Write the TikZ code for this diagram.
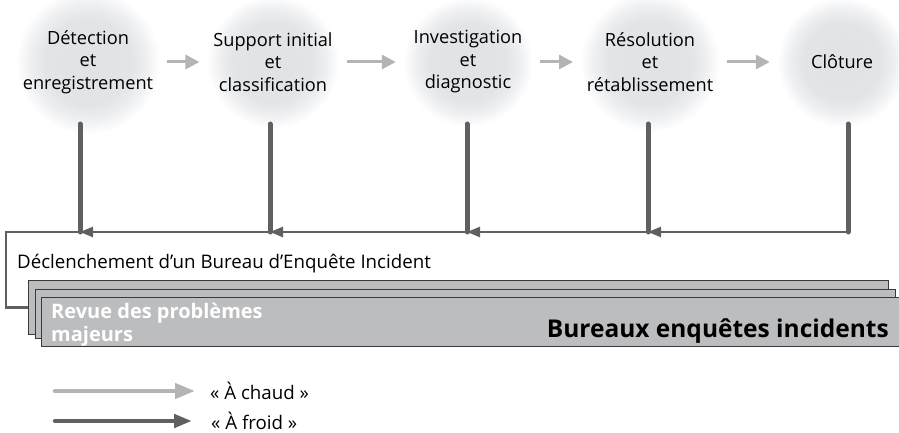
\documentclass[tikz,border=0pt]{standalone}
\usepackage{fontspec}
\setmainfont{Open Sans}
\usetikzlibrary{arrows.meta}

\definecolor{hotgray}{RGB}{180,180,181}
\definecolor{coldgray}{RGB}{96,96,97}
\definecolor{glowgray}{RGB}{224,226,230}
\definecolor{boxgray}{RGB}{188,189,191}
\definecolor{edgegray}{RGB}{58,58,60}

% soft disc behind each phase (the node border sits at 25bp)
\pgfdeclareradialshading{glow}{\pgfpointorigin}{color(0bp)=(glowgray);
  color(15bp)=(glowgray!92!white); color(20bp)=(glowgray!55!white);
  color(25bp)=(white); color(50bp)=(white)}

\begin{document}
\begin{tikzpicture}[
  x=1pt, y=-1pt,
  phase/.style={circle, minimum size=130pt, inner sep=0pt, shading=glow,
    align=center, font=\fontsize{18.2}{22.5}\selectfont},
  hot/.style={hotgray, line width=3pt, -{Triangle[length=14pt, width=14pt]},
    shorten <=7pt, shorten >=7pt},
  cold/.style={coldgray, line width=5pt, line cap=round, shorten <=62pt},
  bus/.style={coldgray, line width=2.5pt},
  busarrow/.style={bus, -{Triangle[length=13pt, width=10pt]}},
  board/.style={draw=edgegray, line width=1.2pt, fill=boxgray, anchor=north west},
  label/.style={inner sep=0pt, font=\fontsize{18.7}{22}\selectfont},
]
\useasboundingbox (0,0) rectangle (899,433);

% Phases of the incident
\node[phase] (detect)  at (88,62)  {Détection\\et\\enregistrement};
\node[phase] (support) at (273,62) {Support initial\\et\\classification};
\node[phase] (invest)  at (468,62) {Investigation\\et\\diagnostic};
\node[phase] (resol)   at (650,62) {Résolution\\et\\rétablissement};
\node[phase] (cloture) at (842,62) {Clôture};

% Hot flow between phases
\draw[hot] (detect) -- (support);
\draw[hot] (support) -- (invest);
\draw[hot] (invest) -- (resol);
\draw[hot] (resol) -- (cloture);

% Stacked boards
\node[board, minimum width=860pt, minimum height=54pt] (back)  at (28,280) {};
\node[board, minimum width=860pt, minimum height=49pt] (mid)   at (35,289) {};
\node[board, minimum width=870pt, minimum height=49pt] (front) at (41,297) {};
\node[anchor=north west, inner sep=0pt, align=left, text=white,
  font=\bfseries\fontsize{20}{23}\selectfont] (revue) at (51,303) {Revue des problèmes\\majeurs};
\node[anchor=base east, inner sep=0pt, font=\bfseries\fontsize{24.5}{28}\selectfont]
  (bureaux) at (889,337) {Bureaux enquêtes incidents};

% Cold flow: bus under the phases
\coordinate (b1) at (80,232);
\coordinate (b2) at (270,232);
\coordinate (b3) at (467,232);
\coordinate (b4) at (648,232);
\coordinate (b5) at (848,232);
\coordinate (corner) at (6,232);
\draw[busarrow] (b5) -- (b4);
\draw[busarrow] (b4) -- (b3);
\draw[busarrow] (b3) -- (b2);
\draw[busarrow] (b2) -- (b1);
\draw[bus] (b1) -- (corner) |- (back.west);
\foreach \p/\b in {detect/b1, support/b2, invest/b3, resol/b4, cloture/b5} {
  \draw[cold] (\p.center -| \b) -- (\b);
}
\node[label, anchor=base west] (trigger) at (17,268) {Déclenchement d’un Bureau d’Enquête Incident};

% Legend
\coordinate (hotstart) at (55,391);
\coordinate (coldstart) at (55,421);
\node[label, anchor=west] (hotlbl) at (210,391) {« À chaud »};
\node[label, anchor=west] (coldlbl) at (211,421) {« À froid »};
\draw[hotgray, line width=4.5pt, line cap=round, -{Triangle[length=20pt, width=15pt]},
  shorten >=15pt] (hotstart) -- (hotlbl.west);
\draw[coldgray, line width=4.5pt, line cap=round, -{Triangle[length=18pt, width=13pt]},
  shorten >=19pt] (coldstart) -- (coldlbl.west);

\end{tikzpicture}
\end{document}
